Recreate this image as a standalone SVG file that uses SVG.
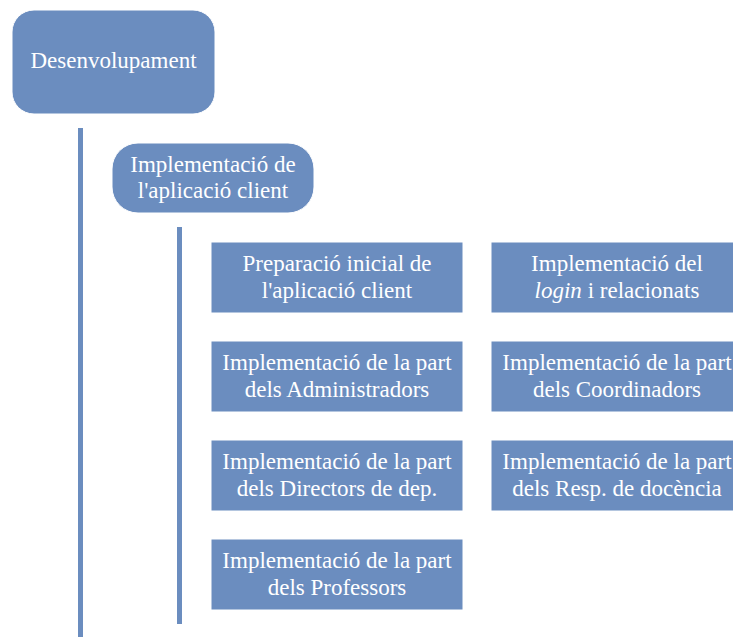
<svg xmlns="http://www.w3.org/2000/svg" width="733" height="637" viewBox="0 0 733 637">
<style>
.n{fill:#6B8DBF;stroke:#ffffff;stroke-width:1}
.b{fill:#6B8DBF}
text{font-family:"Liberation Serif","Times New Roman",serif;font-size:23px;fill:#ffffff;text-anchor:middle}
</style>
<rect width="733" height="637" fill="#ffffff"/>
<g id="connectors">
<rect class="b" x="78" y="128" width="5" height="509"/>
<rect class="b" x="177" y="227" width="5" height="397"/>
</g>
<g id="n-desenvolupament">
<rect class="n" x="12" y="10" width="203" height="104" rx="22" ry="22"/>
<text x="113.5" y="68">Desenvolupament</text>
</g>
<g id="n-aplicacio">
<rect class="n" x="112" y="143" width="202" height="70" rx="26" ry="26"/>
<text x="213" y="172">Implementació de</text>
<text x="213" y="198">l'aplicació client</text>
</g>
<g id="n-preparacio">
<rect class="n" x="211" y="242" width="252" height="71"/>
<text x="337" y="271">Preparació inicial de</text>
<text x="337" y="298">l'aplicació client</text>
</g>
<g id="n-login">
<rect class="n" x="491" y="242" width="252" height="71"/>
<text x="617" y="271">Implementació del</text>
<text x="617" y="298"><tspan font-style="italic">login</tspan> i relacionats</text>
</g>
<g id="n-administradors">
<rect class="n" x="211" y="341" width="252" height="71"/>
<text x="337" y="370">Implementació de la part</text>
<text x="337" y="397">dels Administradors</text>
</g>
<g id="n-coordinadors">
<rect class="n" x="491" y="341" width="252" height="71"/>
<text x="617" y="370">Implementació de la part</text>
<text x="617" y="397">dels Coordinadors</text>
</g>
<g id="n-directors">
<rect class="n" x="211" y="440" width="252" height="71"/>
<text x="337" y="469">Implementació de la part</text>
<text x="337" y="496">dels Directors de dep.</text>
</g>
<g id="n-resp">
<rect class="n" x="491" y="440" width="252" height="71"/>
<text x="617" y="469">Implementació de la part</text>
<text x="617" y="496">dels Resp. de docència</text>
</g>
<g id="n-professors">
<rect class="n" x="211" y="539" width="252" height="71"/>
<text x="337" y="568">Implementació de la part</text>
<text x="337" y="595">dels Professors</text>
</g>
</svg>
